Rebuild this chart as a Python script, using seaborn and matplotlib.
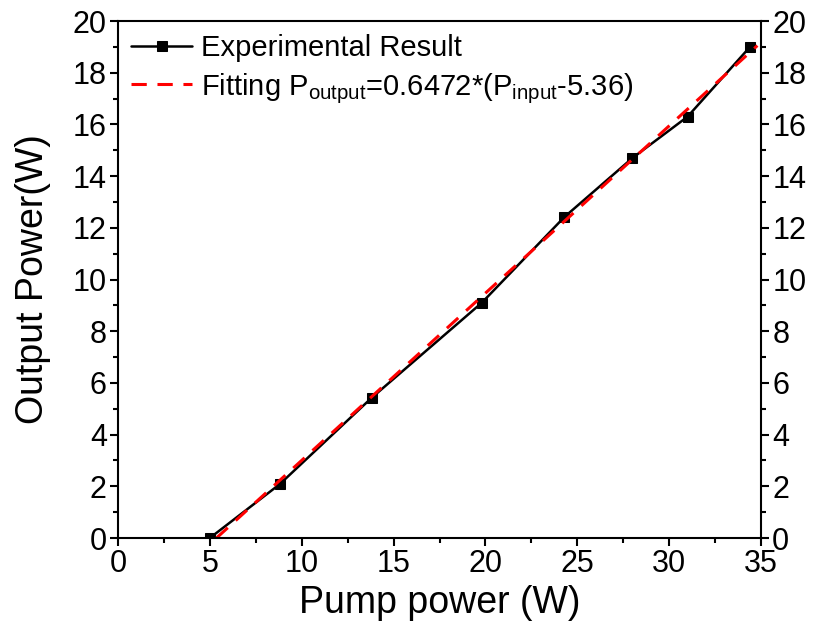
import numpy as np
import pandas as pd
import seaborn as sns
import matplotlib
matplotlib.use("Agg")
from matplotlib import pyplot as plt

# measured points
pump_power = [5.0, 8.8, 13.8, 19.8, 24.3, 28.0, 31.0, 34.4]
output_power = [0.0, 2.08, 5.42, 9.1, 12.42, 14.7, 16.3, 19.0]

# linear fit end points (P_output = 0.6472*(P_input - 5.36))
fit_x = [5.36, 34.8]
fit_y = [0.0, 19.05]

x_ticks = [0, 5, 10, 15, 20, 25, 30, 35]
y_ticks = [0, 2, 4, 6, 8, 10, 12, 14, 16, 18, 20]

sns.set_style("ticks")
plt.rcParams['font.family'] = ['Liberation Sans', 'DejaVu Sans']
plt.rcParams['mathtext.fontset'] = 'custom'
plt.rcParams['mathtext.rm'] = 'Liberation Sans'
plt.rcParams['text.color'] = 'black'
plt.rcParams['axes.labelcolor'] = 'black'
plt.rcParams['xtick.color'] = 'black'
plt.rcParams['ytick.color'] = 'black'
plt.rcParams['axes.edgecolor'] = 'black'

exp = pd.DataFrame({'x': pump_power, 'y': output_power})
fit = pd.DataFrame({'x': fit_x, 'y': fit_y})

fig = plt.figure(figsize=(8.17, 6.24), dpi=100)
ax = fig.add_axes([0.1444, 0.1378, 0.7871, 0.8285])

sns.lineplot(x='x', y='y', data=exp, ax=ax, color='black', lw=1.8,
             marker='s', markersize=7.5, markeredgecolor='black',
             label='Experimental Result')
sns.lineplot(x='x', y='y', data=fit, ax=ax, color='red', lw=2.2,
             dashes=False, label=r'Fitting P$_\mathregular{output}$=0.6472*(P$_\mathregular{input}$-5.36)')
ax.lines[1].set_dashes((5, 3.5))

ax.set_xlim(0, 35)
ax.set_ylim(0, 20)
ax.set_xticks(x_ticks)
ax.set_yticks(y_ticks)
ax.set_xticks(np.arange(2.5, 35, 5), minor=True)
ax.set_yticks(np.arange(1, 20, 2), minor=True)

for s in ax.spines.values():
    s.set_linewidth(1.5)
    s.set_visible(True)

ax.tick_params(which='major', direction='out', length=6, width=1.5, labelsize=22,
               pad=2, left=True, right=True, labelright=True, top=False, bottom=True)
ax.tick_params(which='minor', direction='out', length=3.5, width=1.5,
               left=True, right=True, top=False, bottom=True)

ax.set_xlabel('Pump power (W)', fontsize=27, labelpad=4)
ax.set_ylabel('Output Power(W)', fontsize=27, labelpad=16)

leg = ax.legend(loc='upper left', frameon=False, fontsize=21, handlelength=2.1,
                handletextpad=0.3, borderaxespad=0.15, labelspacing=0.3,
                borderpad=0.3)

fig.savefig('out.png', dpi=100)
